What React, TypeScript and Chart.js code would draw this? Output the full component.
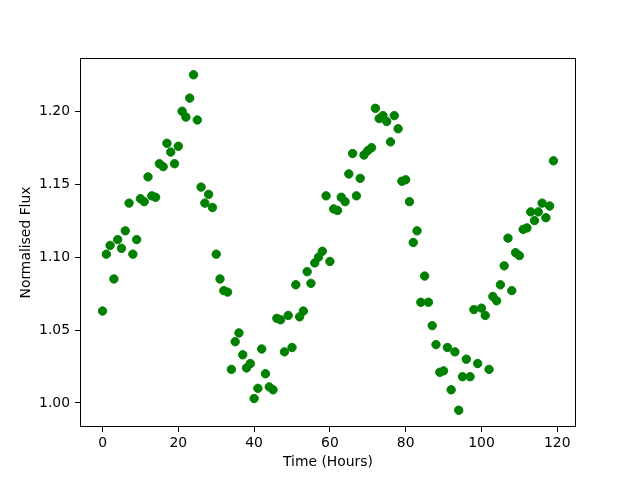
import React, { useEffect, useRef } from "react";
import { Chart, registerables } from "chart.js";

Chart.register(...registerables);

const hours: number[] = Array.from({ length: 120 }, (_, i) => i);

const flux: number[] = [
  1.063, 1.102, 1.108, 1.085, 1.112, 1.106, 1.118, 1.137, 1.102, 1.112,
  1.140, 1.138, 1.155, 1.142, 1.141, 1.164, 1.162, 1.178, 1.172, 1.164,
  1.176, 1.200, 1.196, 1.209, 1.225, 1.194, 1.148, 1.137, 1.143, 1.134,
  1.102, 1.085, 1.077, 1.076, 1.023, 1.042, 1.048, 1.033, 1.024, 1.027,
  1.003, 1.010, 1.037, 1.020, 1.011, 1.009, 1.058, 1.057, 1.035, 1.060,
  1.038, 1.081, 1.059, 1.063, 1.090, 1.082, 1.096, 1.100, 1.104, 1.142,
  1.097, 1.133, 1.132, 1.141, 1.138, 1.157, 1.171, 1.142, 1.154, 1.170,
  1.173, 1.175, 1.202, 1.195, 1.197, 1.193, 1.179, 1.197, 1.188, 1.152,
  1.153, 1.138, 1.110, 1.118, 1.069, 1.087, 1.069, 1.053, 1.040, 1.021,
  1.022, 1.038, 1.009, 1.035, 0.995, 1.018, 1.030, 1.018, 1.064, 1.027,
  1.065, 1.060, 1.023, 1.073, 1.070, 1.081, 1.094, 1.113, 1.077, 1.103,
  1.101, 1.119, 1.120, 1.131, 1.125, 1.131, 1.137, 1.127, 1.135, 1.166,
];

const xTicks: number[] = [0, 20, 40, 60, 80, 100, 120];
const yTicks: number[] = [1.0, 1.05, 1.1, 1.15, 1.2];

const frame = {
  id: "frame",
  afterDraw(chart: any) {
    const { ctx, chartArea } = chart;
    ctx.save();
    ctx.strokeStyle = "#000";
    ctx.lineWidth = 1;
    ctx.strokeRect(
      Math.round(chartArea.left) + 0.5,
      Math.round(chartArea.top) + 0.5,
      Math.round(chartArea.right - chartArea.left) - 1,
      Math.round(chartArea.bottom - chartArea.top) - 1
    );
    ctx.restore();
  },
};

export default function App() {
  const ref = useRef<HTMLCanvasElement | null>(null);
  useEffect(() => {
    if (!ref.current) return;
    const font = { family: "DejaVu Sans", size: 13.9 };
    const chart = new Chart(ref.current, {
      type: "scatter",
      data: {
        datasets: [
          {
            data: hours.map((h, i) => ({ x: h, y: flux[i] })),
            pointRadius: 4.2,
            pointBorderWidth: 1,
            pointBackgroundColor: "#008000",
            pointBorderColor: "#008000",
          },
        ],
      },
      options: {
        responsive: false,
        animation: false,
        color: "#000",
        layout: { padding: { top: 58, right: 64, left: 0, bottom: 0 } },
        plugins: { legend: { display: false }, tooltip: { enabled: false } },
        scales: {
          x: {
            type: "linear",
            min: -5.95,
            max: 124.95,
            afterBuildTicks: (s: any) => {
              s.ticks = xTicks.map((v) => ({ value: v }));
            },
            afterFit: (s: any) => {
              s.height = 53;
            },
            grid: { drawOnChartArea: false, drawTicks: true, tickLength: 5, color: "#000" },
            border: { display: false },
            ticks: { color: "#000", font, padding: 3, maxRotation: 0, callback: (v: any) => String(v) },
            title: { display: true, text: "Time (Hours)", color: "#000", font, padding: { top: 0, bottom: 9 } },
          },
          y: {
            type: "linear",
            min: 0.9835,
            max: 1.2365,
            afterBuildTicks: (s: any) => {
              s.ticks = yTicks.map((v) => ({ value: v }));
            },
            afterFit: (s: any) => {
              s.width = 80;
            },
            grid: { drawOnChartArea: false, drawTicks: true, tickLength: 5, color: "#000" },
            border: { display: false },
            ticks: { color: "#000", font, padding: 5, callback: (v: any) => Number(v).toFixed(2) },
            title: { display: true, text: "Normalised Flux", color: "#000", font, padding: { top: 18, bottom: 0 } },
          },
        },
      },
      plugins: [frame],
    });
    return () => chart.destroy();
  }, []);
  return (
    <canvas
      ref={ref}
      width={640}
      height={480}
      style={{ position: "absolute", left: 0, top: 0, width: 640, height: 480 }}
    />
  );
}
